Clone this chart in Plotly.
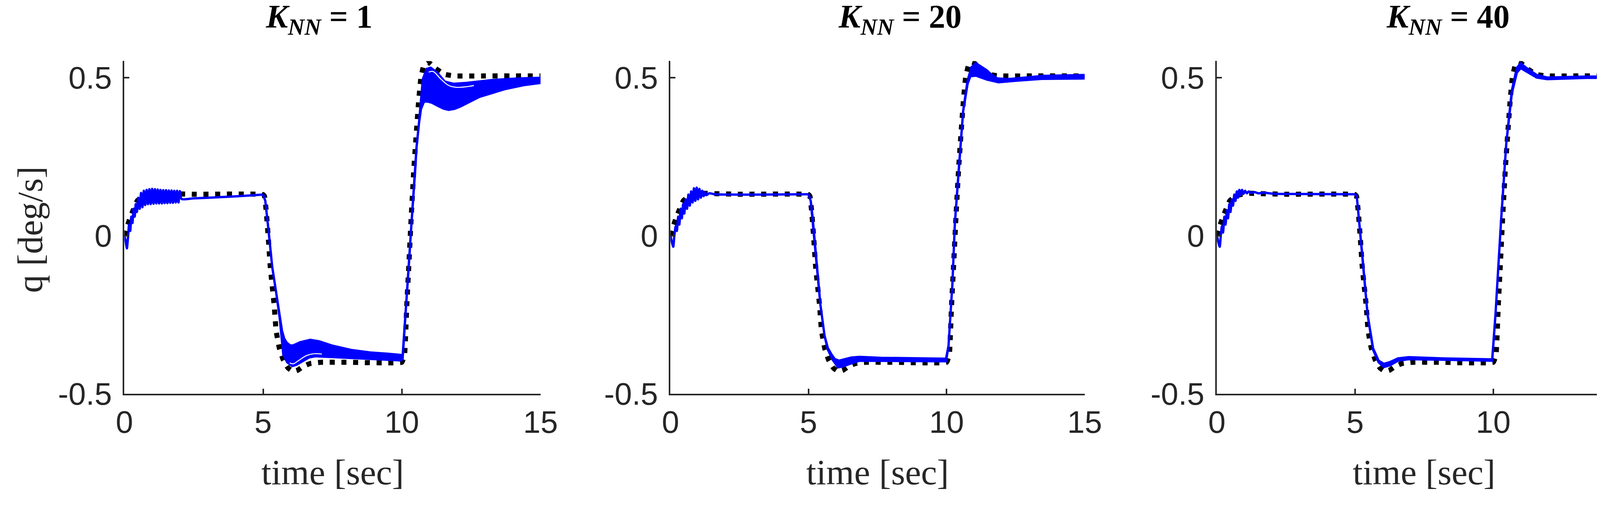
import plotly.graph_objects as go

# reference model response (black dotted), the same in all three cases
t_ref = [0.0, 0.1, 0.24, 0.47, 0.7, 0.9, 1.2, 1.6, 2.5, 5.0,
         5.05, 5.12, 5.19, 5.26, 5.40, 5.47, 5.59, 5.73, 5.9, 6.08,
         6.25, 6.45, 6.7, 7.1, 8.0, 10.0, 10.05, 10.1, 10.18, 10.25,
         10.34, 10.44, 10.6, 10.69, 10.8, 10.9, 11.0, 11.2, 11.4, 11.55,
         11.9, 13.0, 15.0]
q_ref = [0.0, 0.03, 0.064, 0.111, 0.126, 0.131, 0.134, 0.133, 0.131, 0.13,
         0.125, 0.07, -0.01, -0.10, -0.22, -0.30, -0.357, -0.393, -0.418, -0.429,
         -0.425, -0.413, -0.404, -0.40, -0.40, -0.40, -0.39, -0.376, -0.22, -0.10,
         0.06, 0.218, 0.416, 0.50, 0.54, 0.549, 0.546, 0.53, 0.518, 0.51,
         0.505, 0.505, 0.505]

# K_NN = 1 : start-up transient (single line), then upper/lower edge of the bundle
t1_start = [0.0, 0.05, 0.09, 0.13, 0.17, 0.21, 0.25, 0.29, 0.33, 0.37, 0.41, 0.45,
            0.50, 0.55, 0.60, 0.65, 0.70, 0.75, 0.80, 0.85, 0.90, 0.95, 1.00, 1.05,
            1.10, 1.15, 1.20, 1.25, 1.30, 1.35, 1.40, 1.45, 1.50, 1.55, 1.60, 1.65,
            1.70, 1.75, 1.80, 1.85, 1.90, 1.95, 2.00, 2.06, 2.5, 3.5, 4.5, 5.0]
q1_start = [0.0, -0.02, -0.04, -0.005, 0.035, 0.015, 0.06, 0.04, 0.085, 0.06, 0.10, 0.075,
            0.12, 0.085, 0.135, 0.09, 0.142, 0.097, 0.145, 0.10, 0.147, 0.10, 0.148, 0.101,
            0.147, 0.102, 0.146, 0.102, 0.145, 0.102, 0.144, 0.103, 0.144, 0.103, 0.143, 0.104,
            0.143, 0.104, 0.142, 0.105, 0.142, 0.105, 0.141, 0.116, 0.118, 0.122, 0.127, 0.13]
t1_hi = [5.0, 5.08, 5.18, 5.33, 5.47, 5.6, 5.68, 5.76, 5.85, 5.98,
         6.08, 6.33, 6.7, 7.02, 7.48, 8.17, 8.86, 9.5, 9.97, 10.03,
         10.1, 10.2, 10.25, 10.35, 10.49, 10.53, 10.62, 10.69, 10.76, 10.9,
         11.04, 11.18, 11.32, 11.55, 11.87, 12.33, 13.25, 14.2, 15.0]
q1_hi = [0.13, 0.11, 0.03, -0.099, -0.179, -0.257, -0.30, -0.325, -0.338, -0.347,
         -0.347, -0.337, -0.329, -0.334, -0.347, -0.361, -0.369, -0.373, -0.377, -0.38,
         -0.298, -0.179, -0.099, 0.04, 0.218, 0.278, 0.356, 0.42, 0.495, 0.527,
         0.531, 0.522, 0.511, 0.487, 0.480, 0.483, 0.492, 0.497, 0.499]
t1_lo = [5.0, 5.08, 5.18, 5.33, 5.47, 5.6, 5.68, 5.73, 5.87, 6.05,
         6.2, 6.33, 6.65, 6.88, 7.48, 8.41, 9.97, 10.03, 10.1, 10.2,
         10.25, 10.35, 10.49, 10.53, 10.62, 10.69, 10.8, 10.94, 11.1, 11.27,
         11.5, 11.69, 11.9, 12.1, 12.8, 13.7, 14.4, 15.0]
q1_lo = [0.13, 0.11, 0.03, -0.099, -0.179, -0.26, -0.33, -0.376, -0.400, -0.412,
         -0.408, -0.400, -0.385, -0.381, -0.383, -0.388, -0.394, -0.388, -0.298, -0.179,
         -0.099, 0.04, 0.218, 0.278, 0.356, 0.40, 0.424, 0.424, 0.42, 0.412,
         0.402, 0.398, 0.401, 0.408, 0.439, 0.463, 0.476, 0.483]
# thin white gaps visible between individual runs
t1_gap_a = [5.96, 6.08, 6.29, 6.56, 6.84, 7.12]
q1_gap_a = [-0.402, -0.405, -0.394, -0.379, -0.373, -0.374]
t1_gap_b = [10.97, 11.13, 11.41, 11.69, 11.97, 12.33, 12.6]
q1_gap_b = [0.517, 0.519, 0.495, 0.475, 0.469, 0.471, 0.475]

# K_NN = 20
t2_start = [0.0, 0.05, 0.10, 0.14, 0.19, 0.23, 0.28, 0.32, 0.37, 0.41,
            0.46, 0.50, 0.55, 0.60, 0.65, 0.70, 0.75, 0.80, 0.85, 0.90,
            0.95, 1.00, 1.05, 1.10, 1.15, 1.20, 1.25, 1.30, 1.40, 1.60,
            2.0, 3.5, 5.0]
q2_start = [0.0, -0.02, -0.035, 0.0, 0.03, 0.015, 0.06, 0.035, 0.085, 0.055,
            0.10, 0.07, 0.115, 0.085, 0.13, 0.095, 0.14, 0.105, 0.15, 0.11,
            0.152, 0.115, 0.148, 0.12, 0.142, 0.125, 0.138, 0.128, 0.134, 0.131,
            0.13, 0.13, 0.131]
t2_hi = [5.0, 5.08, 5.14, 5.29, 5.43, 5.58, 5.7, 5.83, 5.95, 6.11,
         6.3, 6.55, 6.85, 7.63, 9.98, 10.07, 10.21, 10.3, 10.46, 10.6,
         10.76, 10.9, 11.06, 11.25, 11.45, 11.64, 11.84, 12.2, 12.52, 13.5,
         15.0]
q2_hi = [0.131, 0.11, 0.065, -0.09, -0.218, -0.316, -0.355, -0.375, -0.39, -0.395,
         -0.39, -0.385, -0.383, -0.386, -0.389, -0.348, -0.154, 0.039, 0.232, 0.394,
         0.49, 0.532, 0.545, 0.535, 0.523, 0.508, 0.497, 0.495, 0.497, 0.505,
         0.508]
t2_lo = [5.0, 5.08, 5.14, 5.29, 5.43, 5.58, 5.7, 5.88, 6.07, 6.25,
         6.46, 6.85, 7.63, 9.98, 10.07, 10.21, 10.3, 10.46, 10.6, 10.76,
         10.86, 11.06, 11.25, 11.45, 11.88, 12.52, 13.5, 15.0]
q2_lo = [0.131, 0.11, 0.065, -0.09, -0.218, -0.316, -0.36, -0.393, -0.416, -0.413,
         -0.406, -0.395, -0.395, -0.397, -0.348, -0.154, 0.039, 0.232, 0.394, 0.48,
         0.504, 0.506, 0.50, 0.494, 0.485, 0.490, 0.496, 0.497]

# K_NN = 40
t3_start = [0.0, 0.05, 0.10, 0.14, 0.18, 0.22, 0.27, 0.31, 0.36, 0.40,
            0.45, 0.49, 0.54, 0.58, 0.63, 0.67, 0.72, 0.76, 0.81, 0.86,
            0.91, 0.96, 1.02, 1.08, 1.15, 1.25, 1.35, 1.5, 1.7, 2.0,
            2.5, 5.0]
q3_start = [0.0, -0.02, -0.035, 0.0, 0.03, 0.01, 0.06, 0.035, 0.08, 0.055,
            0.10, 0.075, 0.115, 0.095, 0.13, 0.11, 0.14, 0.12, 0.145, 0.128,
            0.145, 0.132, 0.142, 0.134, 0.14, 0.135, 0.138, 0.134, 0.136, 0.133,
            0.132, 0.131]
t3_band = [5.0, 5.06, 5.15, 5.25, 5.45, 5.65, 5.85, 6.04, 6.25, 6.55,
           6.94, 8.22, 9.96, 10.08, 10.28, 10.47, 10.67, 10.85, 10.99, 11.2,
           11.57, 11.95, 13.37, 15.0]
q3_hi = [0.131, 0.125, 0.04, -0.052, -0.248, -0.356, -0.395, -0.405, -0.40, -0.388,
         -0.384, -0.388, -0.391, -0.248, 0.046, 0.292, 0.458, 0.53, 0.545, 0.53,
         0.508, 0.500, 0.503, 0.503]
q3_lo = [0.131, 0.125, 0.04, -0.052, -0.248, -0.36, -0.40, -0.415, -0.41, -0.395,
         -0.39, -0.392, -0.395, -0.248, 0.046, 0.292, 0.45, 0.515, 0.53, 0.52,
         0.50, 0.495, 0.499, 0.499]

titles = ["1", "20", "40"]
x_ticks = [0, 5, 10, 15]
y_ticks = [-0.5, 0, 0.5]
y_ticktext = ["-0.5", "0", "0.5"]

BLUE = "#0000ff"
AXIS = "#262626"
W, H = 4250, 1294

panels = [
    dict(start=(t1_start, q1_start), hi=(t1_hi, q1_hi), lo=(t1_lo, q1_lo),
         gaps=[(t1_gap_a, q1_gap_a), (t1_gap_b, q1_gap_b)]),
    dict(start=(t2_start, q2_start), hi=(t2_hi, q2_hi), lo=(t2_lo, q2_lo), gaps=[]),
    dict(start=(t3_start, q3_start), hi=(t3_band, q3_hi), lo=(t3_band, q3_lo), gaps=[]),
]

# pixel placement of the three axes boxes (left, right) and common top/bottom
x_px = [(293, 1375), (1713, 2790), (3134, 4212)]
title_px = [799, 2310, 3735]
y_top, y_bot = 152, 1037

fig = go.Figure()

for i, p in enumerate(panels):
    xa = "x" if i == 0 else "x%d" % (i + 1)
    ya = "y" if i == 0 else "y%d" % (i + 1)

    fig.add_trace(go.Scatter(
        x=t_ref, y=q_ref, mode="lines", xaxis=xa, yaxis=ya,
        line=dict(color="black", width=13, dash="13px,17px", shape="spline", smoothing=0.4)))

    t_hi, q_hi = p["hi"]
    t_lo, q_lo = p["lo"]
    fig.add_trace(go.Scatter(
        x=list(t_hi) + list(t_lo)[::-1], y=list(q_hi) + list(q_lo)[::-1],
        mode="lines", fill="toself", fillcolor=BLUE, xaxis=xa, yaxis=ya,
        line=dict(color=BLUE, width=6)))

    t_s, q_s = p["start"]
    fig.add_trace(go.Scatter(
        x=t_s, y=q_s, mode="lines", xaxis=xa, yaxis=ya,
        line=dict(color=BLUE, width=6, shape="spline", smoothing=0.6)))

    for t_g, q_g in p["gaps"]:
        fig.add_trace(go.Scatter(
            x=t_g, y=q_g, mode="lines", xaxis=xa, yaxis=ya,
            line=dict(color="white", width=2.5, shape="spline")))

    left, right = x_px[i]
    fig.update_layout(**{
        "xaxis" if i == 0 else "xaxis%d" % (i + 1): dict(
            domain=[left / W, right / W], anchor=ya, range=[0, 15],
            tickvals=x_ticks, ticktext=[str(v) for v in x_ticks],
            ticks="inside", ticklen=13, tickwidth=4, tickcolor=AXIS,
            showline=True, linewidth=4, linecolor=AXIS,
            showgrid=False, zeroline=False, ticklabelstandoff=0,
            ticklabeloverflow="allow",
            tickfont=dict(family="Liberation Sans", size=80, color=AXIS)),
        "yaxis" if i == 0 else "yaxis%d" % (i + 1): dict(
            domain=[1 - y_bot / H, 1 - y_top / H], anchor=xa, range=[-0.5, 0.552],
            tickvals=y_ticks, ticktext=y_ticktext,
            ticks="inside", ticklen=13, tickwidth=4, tickcolor=AXIS,
            showline=True, linewidth=4, linecolor=AXIS,
            showgrid=False, zeroline=False, ticklabelstandoff=12,
            ticklabeloverflow="allow",
            tickfont=dict(family="Liberation Sans", size=80, color=AXIS)),
    })

    fig.add_annotation(
        text="<b><i>K</i><sub><i>NN</i></sub> = %s</b>" % titles[i],
        x=title_px[i] / W, y=1 - 40 / H, xref="paper", yref="paper",
        xanchor="center", yanchor="middle", showarrow=False,
        font=dict(family="Liberation Serif", size=84, color="black"))
    fig.add_annotation(
        text="time [sec]", x=(left + right) / 2 / W, y=1 - 1245 / H,
        xref="paper", yref="paper", xanchor="center", yanchor="middle", showarrow=False,
        font=dict(family="Liberation Serif", size=92, color=AXIS))

fig.add_annotation(
    text="q [deg/s]", x=48 / W, y=1 - 600 / H, textangle=-90,
    xref="paper", yref="paper", xanchor="center", yanchor="middle", showarrow=False,
    font=dict(family="Liberation Serif", size=92, color=AXIS))

fig.update_layout(
    width=W, height=H, margin=dict(l=0, r=0, t=0, b=0),
    paper_bgcolor="white", plot_bgcolor="white", showlegend=False)

fig.write_html("out.html")
